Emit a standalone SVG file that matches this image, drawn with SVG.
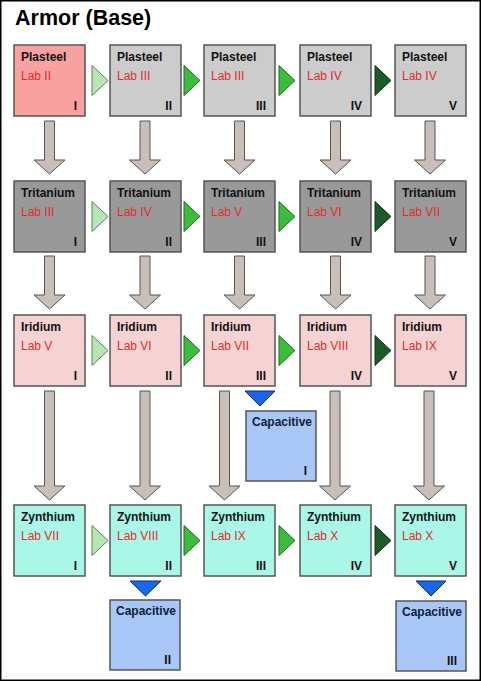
<svg xmlns="http://www.w3.org/2000/svg" width="481" height="681" viewBox="0 0 481 681">
<style>
.box{stroke:#555;stroke-width:1.5}
.pr{fill:#f9a1a1}.pl{fill:#cccccc}.tr{fill:#999999}.ir{fill:#f5d3d3}.zy{fill:#aaf7e8}.ca{fill:#a8c6f6}
.t{font-family:"Liberation Sans",Arial,sans-serif;font-weight:bold;font-size:12px;fill:#111}
.ct{font-family:"Liberation Sans",Arial,sans-serif;font-weight:bold;font-size:12px;fill:#0f1e3a}
.lab{font-family:"Liberation Sans",Arial,sans-serif;font-size:12px;fill:#e02c2c}
.n{font-family:"Liberation Sans",Arial,sans-serif;font-weight:bold;font-size:12px;fill:#111;text-anchor:end}
.va{fill:#c9bfba;stroke:#555;stroke-width:1}
.g1{fill:#b6e6b2;stroke:#5c7f5c;stroke-width:1}
.g2{fill:#3cbc3c;stroke:#1f6a1f;stroke-width:1}
.g3{fill:#1e5a28;stroke:#10361a;stroke-width:1}
.bl{fill:#1a66e8;stroke:#0c2f70;stroke-width:1}
</style>
<rect x="0" y="0" width="481" height="681" fill="#fff"/>
<rect x="0.75" y="0.75" width="479.5" height="679.5" fill="none" stroke="#000" stroke-width="1.5"/>
<text x="15" y="25" font-family="Liberation Sans,Arial,sans-serif" font-weight="bold" font-size="21.5" fill="#000">Armor (Base)</text>

<g id="connectors">
  <!-- row 1 horizontal -->
  <polygon class="g1" points="92,65.5 108,80.5 92,95.5"/>
  <polygon class="g2" points="184,65.5 200,80.5 184,95.5"/>
  <polygon class="g2" points="279,65.5 295,80.5 279,95.5"/>
  <polygon class="g3" points="375,65.5 391,80.5 375,95.5"/>
  <!-- row 2 horizontal -->
  <polygon class="g1" points="92,201.5 108,216.5 92,231.5"/>
  <polygon class="g2" points="184,201.5 200,216.5 184,231.5"/>
  <polygon class="g2" points="279,201.5 295,216.5 279,231.5"/>
  <polygon class="g3" points="375,201.5 391,216.5 375,231.5"/>
  <!-- row 3 horizontal -->
  <polygon class="g1" points="92,335.5 108,350.5 92,365.5"/>
  <polygon class="g2" points="184,335.5 200,350.5 184,365.5"/>
  <polygon class="g2" points="279,335.5 295,350.5 279,365.5"/>
  <polygon class="g3" points="375,335.5 391,350.5 375,365.5"/>
  <!-- row 4 horizontal -->
  <polygon class="g1" points="92,525.5 108,540.5 92,555.5"/>
  <polygon class="g2" points="184,525.5 200,540.5 184,555.5"/>
  <polygon class="g2" points="279,525.5 295,540.5 279,555.5"/>
  <polygon class="g3" points="375,525.5 391,540.5 375,555.5"/>
  <!-- row 1 to 2 down arrows -->
  <polygon class="va" points="44.5,121 54.5,121 54.5,160 65,160 49.5,174 34,160 44.5,160"/>
  <polygon class="va" points="140,121 150,121 150,160 160.5,160 145,174 129.5,160 140,160"/>
  <polygon class="va" points="234.5,121 244.5,121 244.5,160 255,160 239.5,174 224,160 234.5,160"/>
  <polygon class="va" points="330.5,121 340.5,121 340.5,160 351,160 335.5,174 320,160 330.5,160"/>
  <polygon class="va" points="425,121 435,121 435,160 445.5,160 430,174 414.5,160 425,160"/>
  <!-- row 2 to 3 down arrows -->
  <polygon class="va" points="44.5,256 54.5,256 54.5,295 65,295 49.5,309 34,295 44.5,295"/>
  <polygon class="va" points="140,256 150,256 150,295 160.5,295 145,309 129.5,295 140,295"/>
  <polygon class="va" points="234.5,256 244.5,256 244.5,295 255,295 239.5,309 224,295 234.5,295"/>
  <polygon class="va" points="330.5,256 340.5,256 340.5,295 351,295 335.5,309 320,295 330.5,295"/>
  <polygon class="va" points="425,256 435,256 435,295 445.5,295 430,309 414.5,295 425,295"/>
  <!-- row 3 to 4 down arrows -->
  <polygon class="va" points="44.5,391 54.5,391 54.5,486 65,486 49.5,500 34,486 44.5,486"/>
  <polygon class="va" points="140,391 150,391 150,486 160.5,486 145,500 129.5,486 140,486"/>
  <polygon class="va" points="219.5,391 229.5,391 229.5,486 240,486 224.5,500 209,486 219.5,486"/>
  <polygon class="va" points="330,391 340,391 340,486 350.5,486 335,500 319.5,486 330,486"/>
  <polygon class="va" points="424,391 434,391 434,486 444.5,486 429,500 413.5,486 424,486"/>
  <!-- capacitive triangles -->
  <polygon class="bl" points="245,391 275,391 260,406"/>
  <polygon class="bl" points="130,581 161,581 145.5,596"/>
  <polygon class="bl" points="416,581 446,581 431,596"/>
</g>

<g id="plasteel-1"><rect class="box pr" x="14" y="45" width="71" height="71"/><text class="t" x="21" y="61">Plasteel</text><text class="lab" x="21" y="80">Lab II</text><text class="n" x="77" y="110">I</text></g>
<g id="plasteel-2"><rect class="box pl" x="110" y="45" width="71" height="71"/><text class="t" x="117" y="61">Plasteel</text><text class="lab" x="117" y="80">Lab III</text><text class="n" x="172" y="110">II</text></g>
<g id="plasteel-3"><rect class="box pl" x="204" y="45" width="71" height="71"/><text class="t" x="211" y="61">Plasteel</text><text class="lab" x="211" y="80">Lab III</text><text class="n" x="266" y="110">III</text></g>
<g id="plasteel-4"><rect class="box pl" x="300" y="45" width="71" height="71"/><text class="t" x="307" y="61">Plasteel</text><text class="lab" x="307" y="80">Lab IV</text><text class="n" x="362" y="110">IV</text></g>
<g id="plasteel-5"><rect class="box pl" x="395" y="45" width="71" height="71"/><text class="t" x="402" y="61">Plasteel</text><text class="lab" x="402" y="80">Lab IV</text><text class="n" x="457" y="110">V</text></g>

<g id="tritanium-1"><rect class="box tr" x="14" y="181" width="71" height="71"/><text class="t" x="21" y="197">Tritanium</text><text class="lab" x="21" y="216">Lab III</text><text class="n" x="77" y="246">I</text></g>
<g id="tritanium-2"><rect class="box tr" x="110" y="181" width="71" height="71"/><text class="t" x="117" y="197">Tritanium</text><text class="lab" x="117" y="216">Lab IV</text><text class="n" x="172" y="246">II</text></g>
<g id="tritanium-3"><rect class="box tr" x="204" y="181" width="71" height="71"/><text class="t" x="211" y="197">Tritanium</text><text class="lab" x="211" y="216">Lab V</text><text class="n" x="266" y="246">III</text></g>
<g id="tritanium-4"><rect class="box tr" x="300" y="181" width="71" height="71"/><text class="t" x="307" y="197">Tritanium</text><text class="lab" x="307" y="216">Lab VI</text><text class="n" x="362" y="246">IV</text></g>
<g id="tritanium-5"><rect class="box tr" x="395" y="181" width="71" height="71"/><text class="t" x="402" y="197">Tritanium</text><text class="lab" x="402" y="216">Lab VII</text><text class="n" x="457" y="246">V</text></g>

<g id="iridium-1"><rect class="box ir" x="14" y="315" width="71" height="71"/><text class="t" x="21" y="331">Iridium</text><text class="lab" x="21" y="350">Lab V</text><text class="n" x="77" y="380">I</text></g>
<g id="iridium-2"><rect class="box ir" x="110" y="315" width="71" height="71"/><text class="t" x="117" y="331">Iridium</text><text class="lab" x="117" y="350">Lab VI</text><text class="n" x="172" y="380">II</text></g>
<g id="iridium-3"><rect class="box ir" x="204" y="315" width="71" height="71"/><text class="t" x="211" y="331">Iridium</text><text class="lab" x="211" y="350">Lab VII</text><text class="n" x="266" y="380">III</text></g>
<g id="iridium-4"><rect class="box ir" x="300" y="315" width="71" height="71"/><text class="t" x="307" y="331">Iridium</text><text class="lab" x="307" y="350">Lab VIII</text><text class="n" x="362" y="380">IV</text></g>
<g id="iridium-5"><rect class="box ir" x="395" y="315" width="71" height="71"/><text class="t" x="402" y="331">Iridium</text><text class="lab" x="402" y="350">Lab IX</text><text class="n" x="457" y="380">V</text></g>

<g id="zynthium-1"><rect class="box zy" x="14" y="505" width="71" height="71"/><text class="t" x="21" y="521">Zynthium</text><text class="lab" x="21" y="540">Lab VII</text><text class="n" x="77" y="570">I</text></g>
<g id="zynthium-2"><rect class="box zy" x="110" y="505" width="71" height="71"/><text class="t" x="117" y="521">Zynthium</text><text class="lab" x="117" y="540">Lab VIII</text><text class="n" x="172" y="570">II</text></g>
<g id="zynthium-3"><rect class="box zy" x="204" y="505" width="71" height="71"/><text class="t" x="211" y="521">Zynthium</text><text class="lab" x="211" y="540">Lab IX</text><text class="n" x="266" y="570">III</text></g>
<g id="zynthium-4"><rect class="box zy" x="300" y="505" width="71" height="71"/><text class="t" x="307" y="521">Zynthium</text><text class="lab" x="307" y="540">Lab X</text><text class="n" x="362" y="570">IV</text></g>
<g id="zynthium-5"><rect class="box zy" x="395" y="505" width="71" height="71"/><text class="t" x="402" y="521">Zynthium</text><text class="lab" x="402" y="540">Lab X</text><text class="n" x="457" y="570">V</text></g>

<g id="capacitive-1"><rect class="box ca" x="246" y="411" width="70" height="70"/><text class="ct" x="252" y="426">Capacitive</text><text class="n" x="307" y="475">I</text></g>
<g id="capacitive-2"><rect class="box ca" x="110" y="600" width="70" height="70"/><text class="ct" x="116" y="615">Capacitive</text><text class="n" x="171" y="664">II</text></g>
<g id="capacitive-3"><rect class="box ca" x="396" y="601" width="70" height="70"/><text class="ct" x="402" y="616">Capacitive</text><text class="n" x="457" y="665">III</text></g>
</svg>
